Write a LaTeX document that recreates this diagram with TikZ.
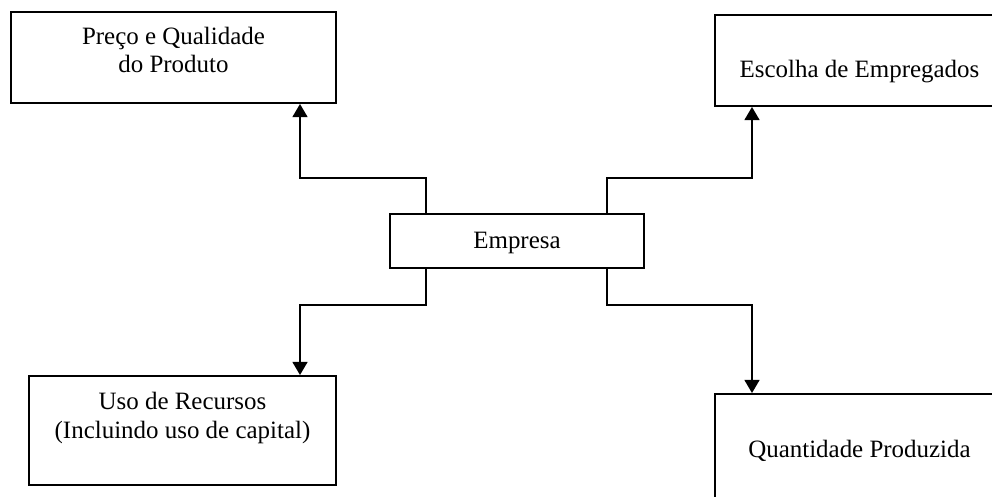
\documentclass[tikz,border=0pt]{standalone}
\usepackage{fontspec}
\setmainfont{Liberation Serif}
\usepackage{tikz}
\usetikzlibrary{positioning}
\usetikzlibrary{arrows.meta}

\begin{document}
\begin{tikzpicture}[x=0.02cm,y=-0.02cm]
    \useasboundingbox (0,0) rectangle (992,497);
    \tikzstyle{every node}=[font=\fontsize{14.2}{16.4}\selectfont]
    \tikzstyle{caixa}=[draw, line width=1.1pt, inner sep=0pt]
    \tikzstyle{seta}=[line width=1.1pt, -{Triangle[length=7.5pt,width=8.5pt]}]

    \node[caixa, minimum width=6.5cm, minimum height=1.82cm] (preco) at (173.5,57.5) {};
    \node[align=center] (tpreco) at (173.5,50) {Preço e Qualidade\\do Produto};

    \node[caixa, minimum width=5.78cm, minimum height=1.82cm] (empregados) at (859.5,60.5) {};
    \node (tempregados) at (859.5,72) {Escolha de Empregados};

    \node[caixa, minimum width=5.08cm, minimum height=1.08cm] (empresa) at (517,241) {};
    \node (tempresa) at (517,243) {Empresa};

    \node[caixa, minimum width=6.14cm, minimum height=2.18cm] (recursos) at (182.5,430.5) {};
    \node[align=center] (trecursos) at (182.5,418) {Uso de Recursos\\(Incluindo uso de capital)};

    \node[caixa, minimum width=5.78cm, minimum height=2.4cm] (quantidade) at (859.5,454) {};
    \node (tquantidade) at (859.5,451) {Quantidade Produzida};

    % pontos de dobra
    \coordinate (c1) at (426,178);
    \coordinate (c2) at (300,178);
    \coordinate (c3) at (607,178);
    \coordinate (c4) at (752,178);
    \coordinate (c5) at (426,305);
    \coordinate (c6) at (300,305);
    \coordinate (c7) at (607,305);
    \coordinate (c8) at (752,305);

    \draw[seta] (c1 |- empresa.north) -- (c1) -- (c2) -- (c2 |- preco.south);
    \draw[seta] (c3 |- empresa.north) -- (c3) -- (c4) -- (c4 |- empregados.south);
    \draw[seta] (c5 |- empresa.south) -- (c5) -- (c6) -- (c6 |- recursos.north);
    \draw[seta] (c7 |- empresa.south) -- (c7) -- (c8) -- (c8 |- quantidade.north);
\end{tikzpicture}
\end{document}
